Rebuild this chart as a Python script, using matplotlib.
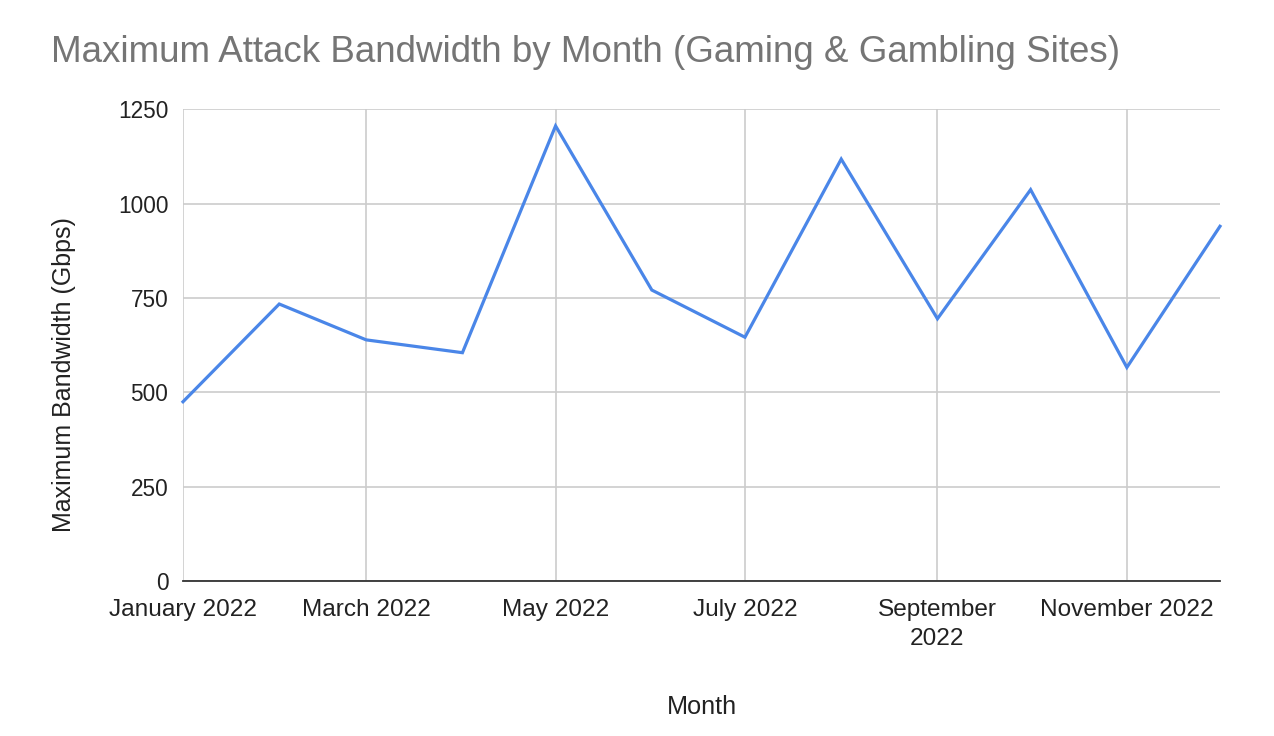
import matplotlib
matplotlib.use("Agg")
import matplotlib.pyplot as plt
import datetime as dt

months = ["2022-01-01", "2022-02-01", "2022-03-01", "2022-04-01", "2022-05-01", "2022-06-01",
          "2022-07-01", "2022-08-01", "2022-09-01", "2022-10-01", "2022-11-01", "2022-12-01"]
bandwidth = [475, 734, 639, 605, 1206, 771, 646, 1118, 695, 1037, 566, 940]
tick_dates = ["2022-01-01", "2022-03-01", "2022-05-01", "2022-07-01", "2022-09-01", "2022-11-01"]
tick_labels = ["January 2022", "March 2022", "May 2022", "July 2022", "September\n2022", "November 2022"]
y_ticks = [0, 250, 500, 750, 1000, 1250]

plt.rcParams['font.family'] = ['Liberation Sans', 'DejaVu Sans']

dates = [dt.datetime.strptime(m, "%Y-%m-%d") for m in months]
tdates = [dt.datetime.strptime(m, "%Y-%m-%d") for m in tick_dates]

W, H = 1274, 736
fig = plt.figure(figsize=(W / 100, H / 100), dpi=100)
ax = fig.add_axes([183 / W, 1 - 581 / H, (1220 - 183) / W, (581 - 109.3) / H])

ax.plot(dates, bandwidth, color="#4a86e8", linewidth=2.3, solid_joinstyle="miter", zorder=3, clip_on=False)

ax.set_xlim(dates[0], dates[-1])
ax.set_ylim(0, 1250)
ax.set_yticks(y_ticks)
ax.set_xticks(tdates)
ax.set_xticklabels(tick_labels, linespacing=1.42)

ax.grid(True, color="#cccccc", linewidth=1.2, zorder=0)
for s in ["top", "right", "left"]:
    ax.spines[s].set_visible(False)
ax.spines["bottom"].set_color("#333333")
ax.spines["bottom"].set_linewidth(1.3)
ax.spines["bottom"].set_zorder(4)

ax.tick_params(axis="both", length=0, labelcolor="#222222")
ax.tick_params(axis="y", pad=10.5, labelsize=16.3)
ax.tick_params(axis="x", pad=13, labelsize=17.6)

ax.set_ylabel("Maximum Bandwidth (Gbps)", fontsize=18.0, color="#222222")
ax.yaxis.label.set_va("center")
ax.yaxis.label.set_ha("center")
ax.yaxis.set_label_coords(64 / W, 1 - 375 / H, transform=fig.transFigure)

ax.set_xlabel("Month", fontsize=18.2, color="#222222")
ax.xaxis.label.set_va("baseline")
ax.xaxis.set_label_coords(701.5 / W, 1 - 714 / H, transform=fig.transFigure)

fig.text(51 / W, 1 - 62 / H, "Maximum Attack Bandwidth by Month (Gaming & Gambling Sites)",
         fontsize=26.5, color="#757575", va="baseline", ha="left")

fig.savefig("out.png", dpi=100)
